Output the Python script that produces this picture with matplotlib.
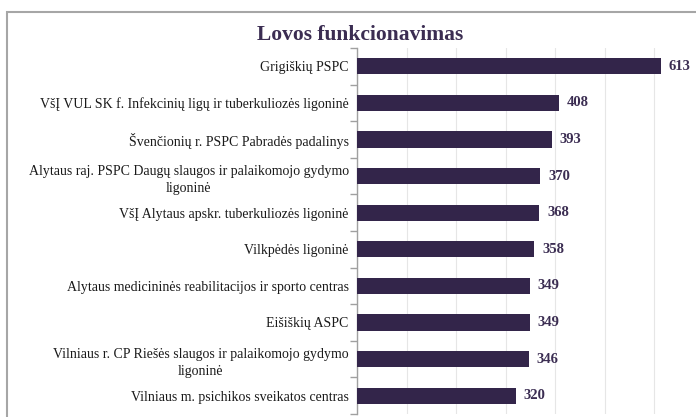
import matplotlib.pyplot as plt
from matplotlib.patches import Rectangle
from matplotlib.ticker import MultipleLocator, FixedLocator

categories = [
    "Grigiškių PSPC",
    "VšĮ VUL SK f. Infekcinių ligų ir tuberkuliozės ligoninė",
    "Švenčionių r. PSPC Pabradės padalinys",
    "Alytaus raj. PSPC Daugų slaugos ir palaikomojo gydymo\nligoninė",
    "VšĮ Alytaus apskr. tuberkuliozės ligoninė",
    "Vilkpėdės ligoninė",
    "Alytaus medicininės reabilitacijos ir sporto centras",
    "Eišiškių ASPC",
    "Vilniaus r. CP Riešės slaugos ir palaikomojo gydymo\nligoninė",
    "Vilniaus m. psichikos sveikatos centras",
]
values = [613, 408, 393, 370, 368, 358, 349, 349, 346, 320]

plt.rcParams['font.family'] = ['Liberation Serif', 'DejaVu Serif']

fig = plt.figure(figsize=(6.96, 4.17), dpi=100)

# outer chart frame (cut off at right/bottom like the original)
fig.patches.append(Rectangle((7 / 696, -0.1), 1.0, 1 - 12 / 417 + 0.1,
                             transform=fig.transFigure, fill=False,
                             edgecolor='#a6a6a6', linewidth=1.5))

ax = fig.add_axes([357 / 696, 1 - 414 / 417, 347 / 696, 366 / 417])

y = list(range(len(categories)))
ax.barh(y, values, height=0.44, color='#33254a', zorder=3)
ax.set_ylim(len(categories) - 0.5, -0.5)
ax.set_xlim(0, 700)

for yi, v in zip(y, values):
    ax.text(v + 16, yi, str(v), va='center', ha='left', fontsize=10.5,
            fontweight='bold', color='#3b2d52')

ax.set_yticks(y)
ax.set_yticklabels(categories, fontsize=10, color='#1a1a1a')
for lab in ax.get_yticklabels():
    lab.set_multialignment('center')
    lab.set_linespacing(1.45)
ax.tick_params(axis='y', which='major', length=0, pad=6)
ax.yaxis.set_minor_locator(FixedLocator([i - 0.5 for i in range(len(categories) + 1)]))
ax.tick_params(axis='y', which='minor', length=5, color='#a0a0a0', width=1)

ax.xaxis.set_major_locator(MultipleLocator(100))
ax.tick_params(axis='x', length=0, labelbottom=False)
ax.grid(axis='x', color='#e6e6e6', linewidth=0.8, zorder=0)

for s in ['top', 'right', 'bottom']:
    ax.spines[s].set_visible(False)
ax.spines['left'].set_color('#a0a0a0')
ax.spines['left'].set_linewidth(1)

fig.text(360 / 696, 1 - 35 / 417, "Lovos funkcionavimas", ha='center', va='center',
         fontsize=15.5, fontweight='bold', color='#3b2d52')

fig.savefig("out.png", dpi=100)
